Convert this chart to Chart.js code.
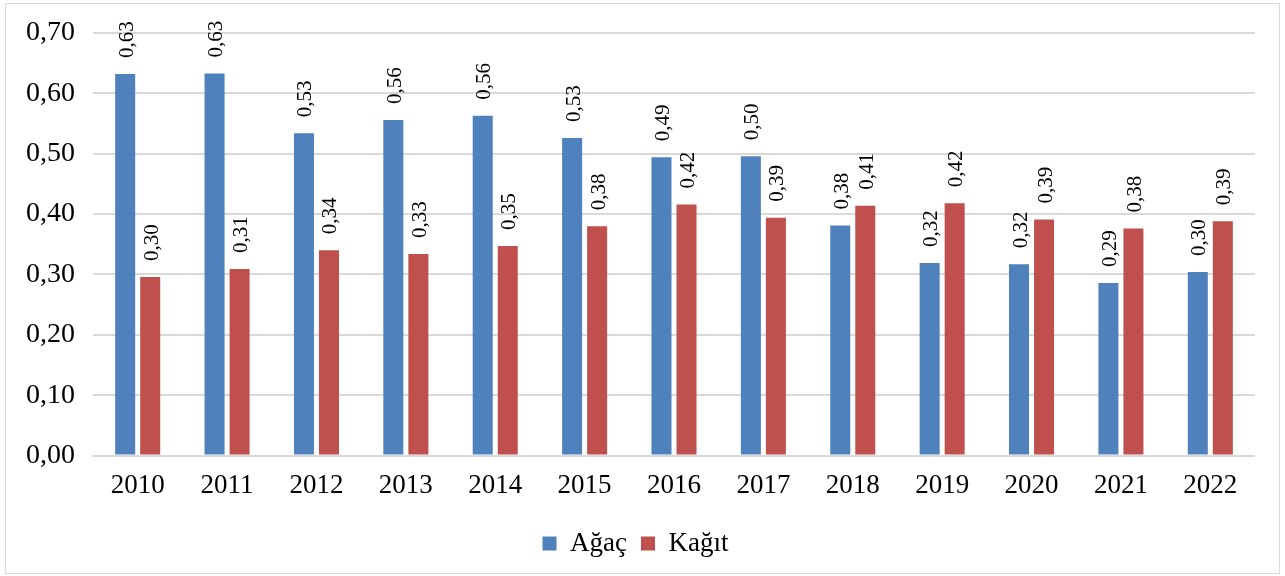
<!DOCTYPE html>
<html>
<head>
<meta charset="utf-8">
<script src="https://cdn.jsdelivr.net/npm/chart.js@4"></script>
<style>
  body { margin: 0; background: #fff; }
  #wrap {
    position: absolute; left: 5px; top: 3px;
    width: 1275px; height: 571px;
    border: 1px solid #d9d9d9; box-sizing: border-box;
  }
</style>
</head>
<body>
<div id="wrap"><canvas id="myChart"></canvas></div>
<script>
const years = ["2010", "2011", "2012", "2013", "2014", "2015", "2016", "2017", "2018", "2019", "2020", "2021", "2022"];
const agac = [0.632, 0.633, 0.534, 0.556, 0.563, 0.526, 0.494, 0.496, 0.381, 0.319, 0.317, 0.286, 0.304];
const kagit = [0.296, 0.309, 0.340, 0.334, 0.347, 0.380, 0.416, 0.394, 0.414, 0.418, 0.391, 0.376, 0.388];
const yTicks = [0, 0.1, 0.2, 0.3, 0.4, 0.5, 0.6, 0.7];

const fmt = (v) => v.toFixed(2).replace(".", ",");
const serif = "'Liberation Serif', 'Times New Roman', serif";

// etiquetas verticales sobre cada barra
const barLabels = {
  id: "barLabels",
  afterDatasetsDraw(chart) {
    const ctx = chart.ctx;
    ctx.save();
    ctx.font = "21px " + serif;
    ctx.fillStyle = "#000";
    ctx.textAlign = "left";
    ctx.textBaseline = "middle";
    chart.data.datasets.forEach((ds, i) => {
      chart.getDatasetMeta(i).data.forEach((bar, j) => {
        ctx.save();
        ctx.translate(bar.x + 2, bar.y - 16);
        ctx.rotate(-Math.PI / 2);
        ctx.fillText(fmt(ds.data[j]), 0, 0);
        ctx.restore();
      });
    });
    ctx.restore();
  },
};

const ctx = document.getElementById("myChart").getContext("2d");

window.myChart = new Chart(ctx, {
  type: "bar",
  data: {
    labels: years,
    datasets: [
      {
        label: "Ağaç",
        data: agac,
        backgroundColor: "#4F81BD",
        categoryPercentage: 0.56,
        barPercentage: 0.8,
      },
      {
        label: "Kağıt",
        data: kagit,
        backgroundColor: "#C0504D",
        categoryPercentage: 0.56,
        barPercentage: 0.8,
      },
    ],
  },
  options: {
    responsive: true,
    maintainAspectRatio: false,
    animation: false,
    layout: {
      padding: { left: 10, right: 24, top: 29, bottom: 6 },
    },
    scales: {
      x: {
        grid: { display: false, drawTicks: false },
        border: { display: false },
        ticks: {
          color: "#000",
          font: { family: serif, size: 27 },
          padding: 14,
        },
      },
      y: {
        min: 0,
        max: 0.7,
        afterFit(scale) {
          scale.width = 77;
          scale.paddingTop = 0;
          scale.paddingBottom = 0;
        },
        afterBuildTicks(scale) {
          scale.ticks = yTicks.map((v) => ({ value: v }));
        },
        grid: { color: "#d9d9d9", lineWidth: 2, drawTicks: false },
        border: { display: false },
        ticks: {
          color: "#000",
          font: { family: serif, size: 28 },
          padding: 18,
          callback: (v) => fmt(v),
        },
      },
    },
    plugins: {
      legend: {
        position: "bottom",
        labels: {
          color: "#000",
          font: { family: serif, size: 27 },
          boxWidth: 14,
          boxHeight: 14,
          padding: 14,
        },
      },
      tooltip: { enabled: false },
    },
  },
  plugins: [barLabels],
});
</script>
</body>
</html>
